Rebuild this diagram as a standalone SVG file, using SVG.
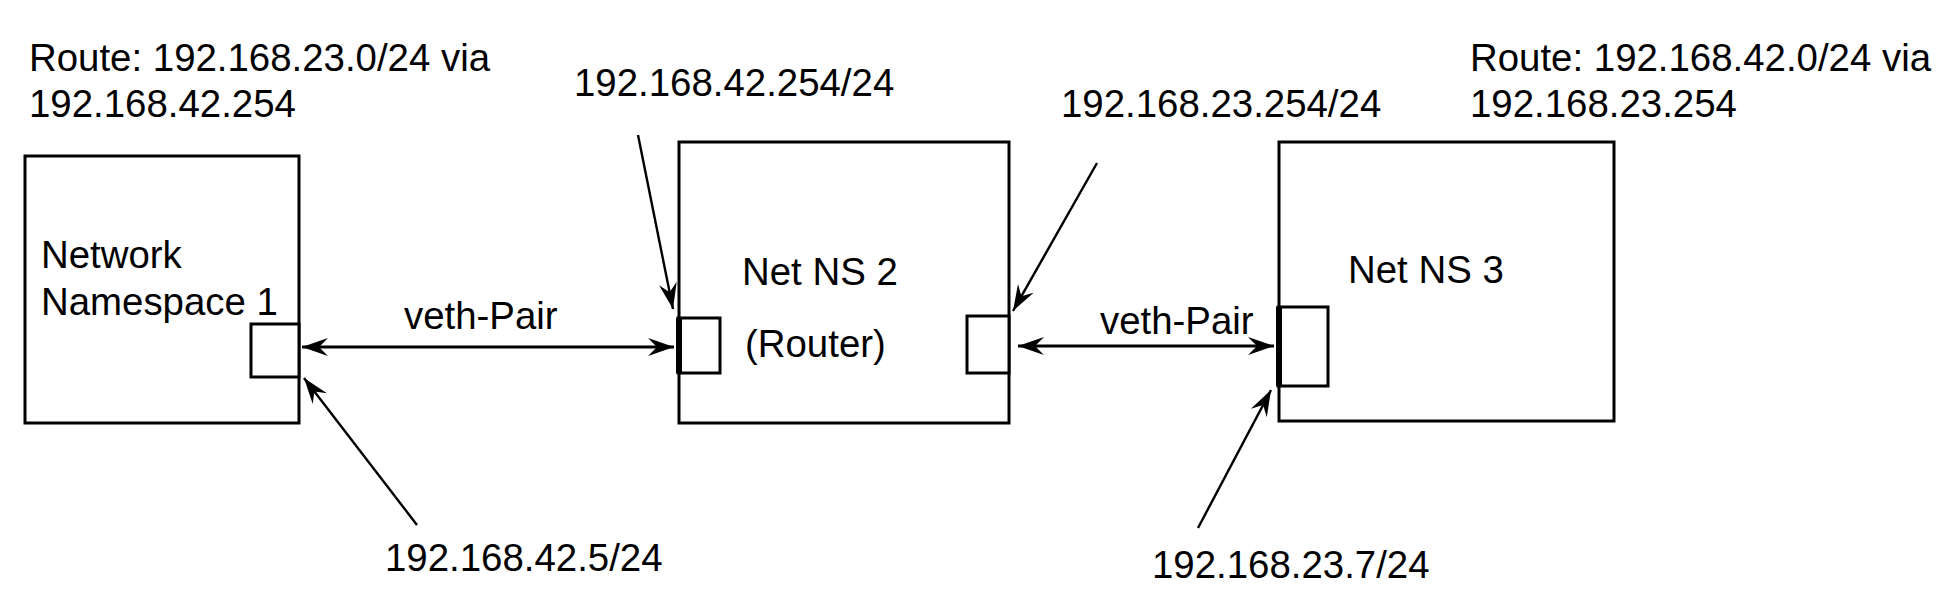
<svg xmlns="http://www.w3.org/2000/svg" width="1936" height="605" viewBox="0 0 1936 605">
<style>
  .box { fill: none; stroke: #000; stroke-width: 3; }
  .port { fill: #fff; stroke: #000; stroke-width: 3; }
  .thick { stroke: #000; stroke-width: 6; }
  .lbl { font-family: "Liberation Sans", Arial, sans-serif; font-size: 38.4px; fill: #000; }
  .conn { stroke: #000; stroke-width: 3; fill: none; }
  .ptr { stroke: #000; stroke-width: 2.4; fill: none; }
</style>
<defs>
  <marker id="ah" viewBox="-28 -10 30 20" refX="0" refY="0" markerWidth="30" markerHeight="20" markerUnits="userSpaceOnUse" orient="auto-start-reverse">
    <path d="M0,0 L-26,-9 L-17,0 L-26,9 Z" fill="#000"/>
  </marker>
</defs>
<rect width="1936" height="605" fill="#fff"/>

<g id="ns1">
  <rect class="box" x="25" y="156" width="274" height="267"/>
  <rect class="port" x="251" y="324" width="48" height="53"/>
  <text class="lbl" x="41" y="268">Network</text>
  <text class="lbl" x="41" y="315">Namespace 1</text>
</g>

<g id="ns2">
  <rect class="box" x="679" y="142" width="330" height="281"/>
  <rect class="port" x="678" y="318" width="42" height="55"/>
  <line class="thick" x1="679" y1="318" x2="679" y2="373"/>
  <rect class="port" x="967" y="316" width="42" height="57"/>
  <text class="lbl" x="742" y="285">Net NS 2</text>
  <text class="lbl" x="745" y="357">(Router)</text>
</g>

<g id="ns3">
  <rect class="box" x="1279" y="142" width="335" height="279"/>
  <rect class="port" x="1278" y="307" width="50" height="79"/>
  <line class="thick" x1="1279" y1="307" x2="1279" y2="386"/>
  <text class="lbl" x="1348" y="283">Net NS 3</text>
</g>

<g id="route1">
  <text class="lbl" x="29" y="71">Route: 192.168.23.0/24 via</text>
  <text class="lbl" x="29" y="117">192.168.42.254</text>
</g>
<g id="route3">
  <text class="lbl" x="1470" y="71">Route: 192.168.42.0/24 via</text>
  <text class="lbl" x="1470" y="117">192.168.23.254</text>
</g>

<g id="addr-labels">
  <text class="lbl" x="574" y="96">192.168.42.254/24</text>
  <text class="lbl" x="1061" y="117">192.168.23.254/24</text>
  <text class="lbl" x="385" y="571">192.168.42.5/24</text>
  <text class="lbl" x="1152" y="578">192.168.23.7/24</text>
</g>

<g id="connectors">
  <line class="conn" x1="302" y1="347" x2="674" y2="347" marker-start="url(#ah)" marker-end="url(#ah)"/>
  <text class="lbl" x="404" y="329">veth-Pair</text>
  <line class="conn" x1="1018" y1="346" x2="1274" y2="346" marker-start="url(#ah)" marker-end="url(#ah)"/>
  <text class="lbl" x="1100" y="334">veth-Pair</text>
  <line class="ptr" x1="638" y1="135" x2="673" y2="309" marker-end="url(#ah)"/>
  <line class="ptr" x1="1097" y1="163" x2="1013" y2="311" marker-end="url(#ah)"/>
  <line class="ptr" x1="417" y1="525" x2="304" y2="378" marker-end="url(#ah)"/>
  <line class="ptr" x1="1198" y1="528" x2="1271" y2="390" marker-end="url(#ah)"/>
</g>
</svg>
